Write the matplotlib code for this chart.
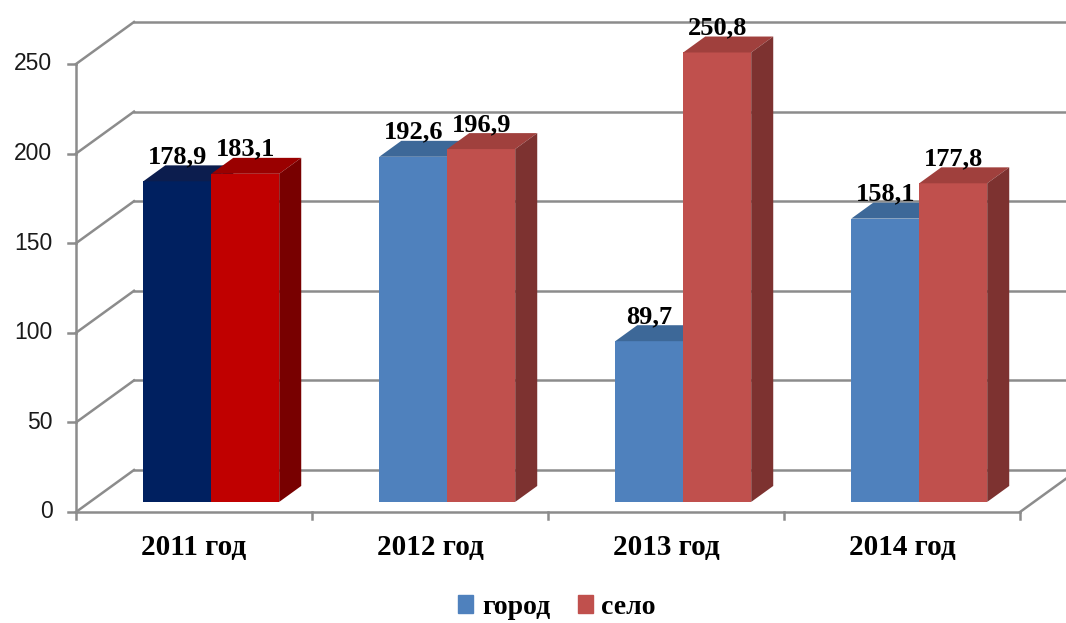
import matplotlib.pyplot as plt
from matplotlib.patches import Polygon, Rectangle

# Data: average values by year, city vs village
years = ['2011 год', '2012 год', '2013 год', '2014 год']
gorod = [178.9, 192.6, 89.7, 158.1]
selo = [183.1, 196.9, 250.8, 177.8]
series_names = ['город', 'село']
yticks = [0, 50, 100, 150, 200, 250]

# Face colours (front, top, side); first year uses darker shades
blue_first = ('#002060', '#0c1d4e', '#001640')
red_first = ('#c00000', '#9a0000', '#780000')
blue = ('#4f81bd', '#3d6898', '#2f5480')
red = ('#c0504d', '#a0403d', '#7d3230')

W, H = 1066, 623
fig = plt.figure(figsize=(W / 100, H / 100), dpi=100)
# axis box: x 0..4 categories, y 0..250
ax = fig.add_axes([76 / W, (H - 512) / H, 944 / W, 448 / H])
ax.set_xlim(0, 4)
ax.set_ylim(0, 250)
ax.axis('off')

# depth of the 3D box in data units
DX = 58 / 236.0
DY = 42 / 1.792
T0, T1 = 0.24, 0.62   # bar front / back as fraction of depth
BW = 0.288            # bar width in categories
LEFT = 0.226          # first bar offset inside the category

grid_kw = dict(color='#8c8c8c', lw=1.8, clip_on=False, zorder=1)

# back wall and side wall gridlines
for v in yticks:
    ax.plot([DX, 4 + DX + 0.2], [v + DY, v + DY], **grid_kw)
    ax.plot([0, DX], [v, v + DY], **grid_kw)

# floor edges and axes
ax.plot([0, 4], [0, 0], **grid_kw)
ax.plot([4, 4 + DX], [0, DY], **grid_kw)
ax.plot([0, 0], [0, 250], **grid_kw)
for v in yticks:
    ax.plot([-0.032, 0], [v, v], **grid_kw)
    ax.text(-0.1, v, str(v), ha='right', va='center', fontsize=16.5,
            family='Liberation Sans', color='#1a1a1a')
for i in range(5):
    ax.plot([i, i], [0, -4], **grid_kw)


def bar3d(x, v, cols):
    front, top, side = cols
    x0 = x + T0 * DX
    y0 = T0 * DY
    ddx = (T1 - T0) * DX
    ddy = (T1 - T0) * DY
    ax.add_patch(Rectangle((x0, y0), BW, v, facecolor=front,
                           edgecolor='none', clip_on=False, zorder=3))
    ax.add_patch(Polygon([(x0, y0 + v), (x0 + BW, y0 + v),
                          (x0 + BW + ddx, y0 + v + ddy), (x0 + ddx, y0 + v + ddy)],
                         facecolor=top, edgecolor='none', clip_on=False, zorder=3))
    ax.add_patch(Polygon([(x0 + BW, y0), (x0 + BW + ddx, y0 + ddy),
                          (x0 + BW + ddx, y0 + v + ddy), (x0 + BW, y0 + v)],
                         facecolor=side, edgecolor='none', clip_on=False, zorder=3))
    ax.text(x0 + BW / 2, y0 + v + ddy + 1.2, f'{v:.1f}'.replace('.', ','),
            ha='center', va='baseline', fontsize=19, fontweight='bold',
            family='Liberation Serif', color='black', zorder=5, clip_on=False)


for i in range(len(years)):
    cb = blue_first if i == 0 else blue
    cr = red_first if i == 0 else red
    bar3d(i + LEFT, gorod[i], cb)
    bar3d(i + LEFT + BW, selo[i], cr)
    ax.text(i + 0.5, -20, years[i], ha='center', va='center', fontsize=21,
            fontweight='bold', family='Liberation Serif')

# legend
handles = [Rectangle((0, 0), 1, 1, color=blue[0]), Rectangle((0, 0), 1, 1, color=red[0])]
fig.legend(handles, series_names, loc='center', bbox_to_anchor=(557 / W, 1 - 607 / H),
           ncol=2, frameon=False, handlelength=0.55, handleheight=0.6,
           handletextpad=0.3, columnspacing=1.0,
           prop={'family': 'Liberation Serif', 'weight': 'bold', 'size': 20})

fig.savefig('out.png', dpi=100, facecolor='white')
